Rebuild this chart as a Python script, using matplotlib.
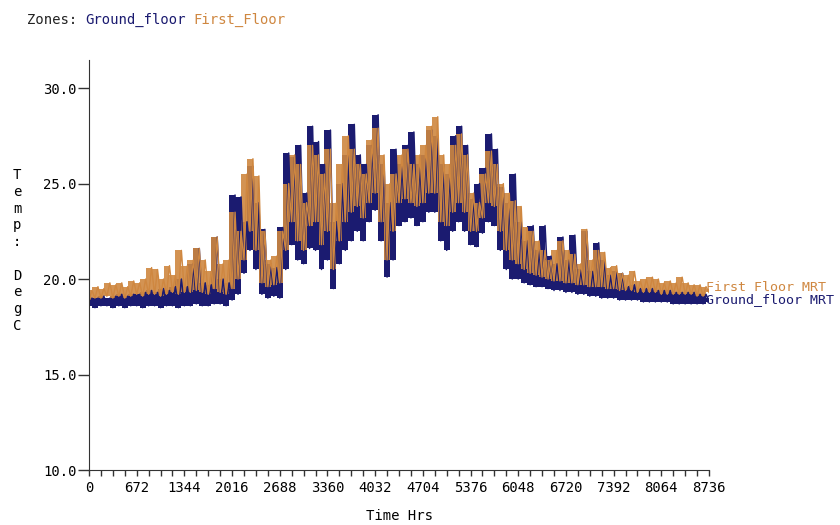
import numpy as np
import matplotlib
matplotlib.use("Agg")
import matplotlib.pyplot as plt

# sample step (hours) for the values
step = 84

# Ground_floor MRT: low / high in each 84 h slot
ground_lo = [18.6, 18.5, 18.6, 18.6, 18.5, 18.6, 18.5, 18.6,
             18.6, 18.5, 18.6, 18.6, 18.5, 18.6, 18.6, 18.5,
             18.6, 18.6, 18.7, 18.6, 18.6, 18.7, 18.7, 18.6,
             18.9, 19.2, 20.3, 21.5, 20.5, 19.2, 19.0, 19.1,
             19.0, 20.5, 21.8, 21.0, 20.8, 21.6, 21.5, 20.5,
             21.0, 19.5, 20.8, 21.5, 22.0, 22.5, 22.0, 23.0,
             23.6, 22.0, 20.1, 21.0, 22.8, 23.0, 23.2, 22.8,
             23.0, 23.5, 23.5, 22.0, 21.5, 22.5, 23.0, 22.5,
             21.8, 21.7, 22.4, 23.0, 22.8, 21.5, 20.5, 20.0,
             20.0, 19.8, 19.7, 19.6, 19.6, 19.5, 19.4, 19.4,
             19.3, 19.3, 19.2, 19.2, 19.1, 19.1, 19.0, 19.0,
             19.0, 18.9, 18.9, 18.9, 18.9, 18.8, 18.8, 18.8,
             18.8, 18.8, 18.7, 18.7, 18.7, 18.7, 18.7, 18.7,
             18.8]
ground_hi = [19.0, 19.0, 19.1, 19.0, 19.1, 19.2, 19.1, 19.2,
             19.2, 19.3, 19.4, 19.3, 19.5, 19.4, 19.6, 20.0,
             19.6, 20.8, 21.6, 19.8, 19.7, 22.2, 20.0, 19.8,
             24.4, 24.3, 23.0, 25.9, 24.0, 22.6, 20.8, 20.6,
             22.7, 26.6, 26.4, 27.0, 24.5, 28.0, 27.2, 26.0,
             27.8, 23.0, 25.0, 26.5, 28.1, 26.5, 26.0, 27.0,
             28.6, 26.0, 24.0, 26.8, 26.0, 27.0, 27.7, 26.0,
             26.5, 27.8, 27.5, 26.0, 25.5, 27.5, 28.0, 27.0,
             24.2, 25.0, 25.8, 27.6, 26.8, 24.8, 24.0, 25.5,
             23.0, 22.0, 22.8, 21.5, 22.8, 21.2, 20.8, 22.2,
             21.0, 22.3, 20.5, 22.5, 20.4, 21.9, 21.0, 20.2,
             20.4, 20.3, 19.6, 19.7, 19.5, 19.5, 19.5, 19.4,
             19.4, 19.4, 19.3, 19.3, 19.3, 19.3, 19.2, 19.2,
             19.0]

# First_Floor MRT: low / high in each 84 h slot
first_lo = [18.9, 19.0, 19.0, 19.1, 19.0, 19.1, 19.0, 19.1,
            19.2, 19.1, 19.2, 19.2, 19.1, 19.2, 19.3, 19.2,
            19.3, 19.3, 19.4, 19.3, 19.2, 19.5, 19.3, 19.2,
            19.5, 20.0, 21.0, 22.5, 21.5, 19.8, 19.6, 19.7,
            19.8, 21.5, 23.0, 22.0, 21.5, 22.8, 23.0, 21.8,
            22.5, 20.5, 22.0, 23.0, 23.5, 23.8, 23.2, 24.0,
            24.5, 23.0, 21.0, 22.5, 24.0, 24.2, 24.0, 23.8,
            24.0, 24.5, 24.5, 23.0, 22.8, 23.5, 24.0, 23.5,
            22.5, 22.5, 23.2, 24.0, 23.8, 22.5, 21.5, 21.0,
            20.8, 20.5, 20.3, 20.2, 20.1, 20.0, 19.9, 19.9,
            19.8, 19.8, 19.7, 19.7, 19.6, 19.6, 19.6, 19.5,
            19.5, 19.4, 19.4, 19.4, 19.3, 19.3, 19.3, 19.3,
            19.2, 19.2, 19.2, 19.2, 19.2, 19.2, 19.1, 19.1,
            19.3]
first_hi = [19.4, 19.6, 19.5, 19.8, 19.7, 19.8, 19.6, 19.9,
            19.8, 20.0, 20.6, 20.5, 20.0, 20.7, 20.2, 21.5,
            20.7, 21.0, 21.6, 21.0, 20.4, 22.2, 20.8, 21.0,
            23.5, 22.5, 25.5, 26.3, 25.4, 22.5, 21.0, 21.2,
            22.5, 25.0, 26.5, 26.0, 24.0, 27.0, 26.5, 25.5,
            26.8, 24.0, 26.0, 27.5, 26.8, 26.0, 25.5, 27.3,
            27.9, 26.5, 25.0, 25.5, 26.5, 26.8, 26.0, 26.5,
            27.0, 28.0, 28.5, 26.5, 26.0, 27.0, 27.6, 26.5,
            24.5, 24.0, 25.5, 26.7, 26.0, 25.0, 24.5, 24.1,
            23.8, 22.7, 22.5, 22.0, 21.5, 21.0, 21.5, 22.0,
            21.5, 21.3, 20.8, 22.6, 21.0, 21.5, 21.4, 20.6,
            20.7, 20.3, 20.2, 20.4, 19.9, 20.0, 20.1, 20.0,
            19.8, 19.9, 19.8, 20.1, 19.8, 19.7, 19.7, 19.6,
            19.5]

x_ticks = [0, 672, 1344, 2016, 2688, 3360, 4032, 4704, 5376,
           6048, 6720, 7392, 8064, 8736]
y_ticks = [10.0, 15.0, 20.0, 25.0, 30.0]

navy = '#1b1b70'
orange = '#cf8740'
mono = 'DejaVu Sans Mono'


def zigzag(lo, hi):
    # alternate low and high reading inside each slot
    n = len(lo)
    t = np.arange(n) * step
    xs = np.empty(2 * n)
    ys = np.empty(2 * n)
    xs[0::2] = t
    xs[1::2] = t + step / 2
    ys[0::2] = lo
    ys[1::2] = hi
    return xs[:-1], ys[:-1]


fig = plt.figure(figsize=(8.4, 5.25), dpi=100)
ax = fig.add_axes([89 / 840, 1 - 470 / 525, 620 / 840, 410 / 525])

t = np.arange(len(ground_lo)) * step
gx, gy = zigzag(ground_lo, ground_hi)
fx, fy = zigzag(first_lo, first_hi)

# dense hourly traces: band between low and high, with the spikes on top
ax.fill_between(t, ground_lo, ground_hi, step='mid', color=navy, lw=0)
ax.plot(gx, gy, color=navy, lw=1.1)
ax.fill_between(t, first_lo, first_hi, step='mid', color=orange, lw=0,
                alpha=0.9)
ax.plot(fx, fy, color=orange, lw=1.0)

ax.set_xlim(0, 8736)
ax.set_ylim(10, 31.47)
ax.spines['top'].set_visible(False)
ax.spines['right'].set_visible(False)
ax.spines['left'].set_color('#333333')
ax.spines['bottom'].set_color('#333333')

ax.set_xticks(x_ticks)
ax.set_xticklabels([str(v) for v in x_ticks], fontfamily=mono, fontsize=10)
ax.set_xticks(np.arange(0, 8737, 168), minor=True)
ax.set_yticks(y_ticks)
ax.set_yticklabels(['%.1f' % v for v in y_ticks], fontfamily=mono, fontsize=10)
ax.tick_params(axis='x', which='both', direction='out', length=4, width=1,
               color='#333333', pad=4)
ax.tick_params(axis='y', direction='out', length=8, width=1,
               color='#333333', pad=1)
ax.set_xlabel('Time Hrs', fontfamily=mono, fontsize=10, labelpad=10)

# stacked y label
fig.text(17 / 840, 1 - 168 / 525, '\n'.join('Temp: DegC'), fontfamily=mono,
         fontsize=10, ha='center', va='top', linespacing=1.25)

# header
fig.text(27 / 840, 1 - 20 / 525, 'Zones:', fontfamily=mono, fontsize=10,
         va='center', color='#222222')
fig.text(85 / 840, 1 - 20 / 525, 'Ground_floor', fontfamily=mono,
         fontsize=10, va='center', color=navy)
fig.text(193 / 840, 1 - 20 / 525, 'First_Floor', fontfamily=mono,
         fontsize=10, va='center', color=orange)

# end labels
ax.text(8700, first_lo[-1] + 0.27, 'First Floor MRT', fontfamily=mono,
        fontsize=9.6, color=orange, va='center', clip_on=False)
ax.text(8700, ground_lo[-1] + 0.12, 'Ground_floor MRT', fontfamily=mono,
        fontsize=9.6, color=navy, va='center', clip_on=False)

fig.savefig('out.png', dpi=100)
